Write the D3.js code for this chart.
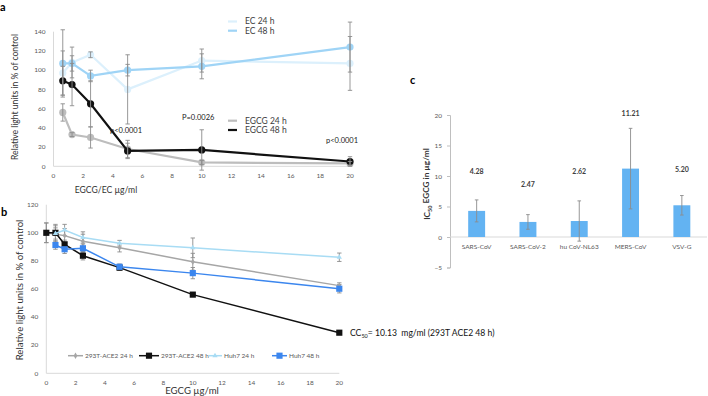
<!DOCTYPE html>
<html lang="en">
<head>
  <meta charset="UTF-8">
  <title>EGCG</title>
  <script src="https://d3js.org/d3.v7.min.js"></script>
  <style>
    body { margin: 0; background: #fff; }
    svg { font-family: Lato, "Open Sans", sans-serif; }
  </style>
</head>
<body>
  <div id="wrapper"></div>
  <script>
    // panel a
    const concA = [0.625, 1.25, 2.5, 5, 10, 20]
    const ec24 = [97, 108, 116, 80, 110, 107]
    const ec24Err = [23, 16, 3, 36, 12, 28]
    const ec48 = [107, 107, 94, 100, 104, 124]
    const ec48Err = [35, 8, 6, 6, 13, 26]
    const egcg24 = [56, 33, 30, 18, 4, 3]
    const egcg24Err = [9, 2, 11, 9, 2, 2]
    const egcg48 = [89, 85, 65, 16, 17, 5]
    const egcg48Err = [15, 22, 24, 8, 21, 5]
    const ticksA = { x: [0, 2, 4, 6, 8, 10, 12, 14, 16, 18, 20], y: [0, 20, 40, 60, 80, 100, 120, 140] }

    // panel b
    const concB = [0, 0.625, 1.25, 2.5, 5, 10, 20]
    const ace24 = [100, 99, 98, 94, 89.4, 79.4, 62.4]
    const ace24Err = [7, 6, 5, 5, 3, 6, 2]
    const ace48 = [100, 100, 91.8, 83.7, 75.2, 56, 28.9]
    const ace48Err = [7, 6, 3, 3, 2, 1, 1]
    const concHuh = [0.625, 1.25, 2.5, 5, 10, 20]
    const huh24 = [99.5, 102, 96.7, 92.6, 89.3, 82.6]
    const huh24Err = [4, 4, 4, 2, 7, 3]
    const huh48 = [91.3, 88.3, 89, 75.8, 71.3, 60.2]
    const huh48Err = [3, 3, 3, 2, 4, 3]
    const ticksB = { x: [0, 2, 4, 6, 8, 10, 12, 14, 16, 18, 20], y: [0, 20, 40, 60, 80, 100, 120] }

    // panel c
    const viruses = ['SARS-CoV', 'SARS-CoV-2', 'hu CoV-NL63', 'MERS-CoV', 'VSV-G']
    const ic50 = [4.28, 2.47, 2.62, 11.21, 5.20]
    const ic50Err = [1.8, 1.2, 3.3, 6.6, 1.6]
    const ic50LabelAt = [10.7, 8.6, 10.7, 20.3, 11.0]
    const ticksC = [-5, 0, 5, 10, 15, 20]

    const svg = d3.select('#wrapper')
      .append('svg')
        .attr('width', 708)
        .attr('height', 396)

    const tickColor = '#595959'
    const errColor = '#8c8c8c'
    const axisColor = '#d9d9d9'

    const drawAxes = (xScale, yScale, xt, yt, size) => {
      const g = svg.append('g')
      g.append('line')
        .attr('x1', xScale(0)).attr('x2', xScale(0))
        .attr('y1', yScale(d3.max(yt))).attr('y2', yScale(0))
        .attr('stroke', axisColor)
      g.append('line')
        .attr('x1', xScale(0)).attr('x2', xScale(20))
        .attr('y1', yScale(0)).attr('y2', yScale(0))
        .attr('stroke', axisColor)
      g.selectAll('.yt').data(yt).join('text')
        .attr('x', xScale(0) - 8).attr('y', d => yScale(d))
        .attr('text-anchor', 'end').attr('dy', '0.35em')
        .attr('font-size', size).attr('fill', tickColor)
        .text(d => d)
      g.selectAll('.xt').data(xt).join('text')
        .attr('x', d => xScale(d)).attr('y', yScale(0) + 9.5)
        .attr('text-anchor', 'middle').attr('dy', '0.35em')
        .attr('font-size', size).attr('fill', tickColor)
        .text(d => d)
    }

    const drawErr = (xScale, yScale, xs, ys, es, cap) => {
      const g = svg.append('g').attr('stroke', errColor).attr('stroke-width', 0.9)
      xs.forEach((x, i) => {
        const px = xScale(x)
        g.append('line').attr('x1', px).attr('x2', px)
          .attr('y1', yScale(ys[i] - es[i])).attr('y2', yScale(ys[i] + es[i]))
        ;[ys[i] - es[i], ys[i] + es[i]].forEach(v => {
          g.append('line').attr('x1', px - cap).attr('x2', px + cap)
            .attr('y1', yScale(v)).attr('y2', yScale(v))
        })
      })
    }

    const drawLine = (xScale, yScale, xs, ys, color, width) => {
      const pts = xs.map((x, i) => [x, ys[i]])
      const lineGenerator = d3.line()
        .x(d => xScale(d[0]))
        .y(d => yScale(d[1]))
      svg.append('path')
        .attr('d', lineGenerator(pts))
        .attr('fill', 'none')
        .attr('stroke', color)
        .attr('stroke-width', width)
      return pts
    }

    // ---------- panel a ----------
    const xA = d3.scaleLinear().domain([0, 20]).range([53.5, 350])
    const yA = d3.scaleLinear().domain([0, 140]).range([166.3, 31.7])
    drawAxes(xA, yA, ticksA.x, ticksA.y, 6.5)

    const seriesA = [
      { y: ec24, e: ec24Err, color: '#dcf0fc' },
      { y: ec48, e: ec48Err, color: '#9fd4f6' },
      { y: egcg24, e: egcg24Err, color: '#bdbdbd' },
      { y: egcg48, e: egcg48Err, color: '#111111' },
    ]
    seriesA.forEach(s => {
      const pts = drawLine(xA, yA, concA, s.y, s.color, 2.2)
      svg.append('g').selectAll('circle').data(pts).join('circle')
        .attr('cx', d => xA(d[0])).attr('cy', d => yA(d[1]))
        .attr('r', 3.6).attr('fill', s.color)
    })
    seriesA.forEach(s => drawErr(xA, yA, concA, s.y, s.e, 2.2))

    const legendA = [
      { label: 'EC 24 h', color: '#dcf0fc', y: 21.5 },
      { label: 'EC 48 h', color: '#9fd4f6', y: 30.7 },
      { label: 'EGCG 24 h', color: '#bdbdbd', y: 120.7 },
      { label: 'EGCG 48 h', color: '#111111', y: 130 },
    ]
    legendA.forEach(d => {
      svg.append('line').attr('x1', 228).attr('x2', 237)
        .attr('y1', d.y).attr('y2', d.y)
        .attr('stroke', d.color).attr('stroke-width', 2.2)
      svg.append('text').attr('x', 245).attr('y', d.y).attr('dy', '0.35em')
        .attr('font-size', 8.5).attr('fill', '#404040').text(d.label)
    })

    svg.append('text').attr('x', 110).attr('y', 130).attr('dy', '0.35em')
      .attr('font-size', 7.5).attr('fill', '#222').text('p<0.0001')
    svg.append('text').attr('x', 182).attr('y', 117).attr('dy', '0.35em')
      .attr('font-size', 7.5).attr('fill', '#222').text('P=0.0026')
    svg.append('text').attr('x', 326).attr('y', 140).attr('dy', '0.35em')
      .attr('font-size', 7.5).attr('fill', '#222').text('p<0.0001')

    svg.append('text')
      .attr('transform', 'translate(15,97) rotate(-90)')
      .attr('text-anchor', 'middle').attr('dy', '0.35em')
      .attr('font-size', 8.6).attr('fill', '#333')
      .text('Relative light units in % of control')
    svg.append('text').attr('x', 106).attr('y', 190).attr('text-anchor', 'middle')
      .attr('dy', '0.35em').attr('font-size', 8.6).attr('fill', '#333')
      .text('EGCG/EC µg/ml')
    svg.append('text').attr('x', 0).attr('y', 11).attr('font-size', 11)
      .attr('font-weight', 'bold').text('a')

    // ---------- panel b ----------
    const xB = d3.scaleLinear().domain([0, 20]).range([46.3, 339.3])
    const yB = d3.scaleLinear().domain([0, 120]).range([373.3, 204.7])
    drawAxes(xB, yB, ticksB.x, ticksB.y, 6.5)

    const seriesB = [
      { x: concB, y: ace24, e: ace24Err, color: '#a6a6a6', shape: d3.symbolDiamond, size: 12, label: '293T-ACE2 24 h' },
      { x: concB, y: ace48, e: ace48Err, color: '#111111', shape: d3.symbolSquare, size: 38, label: '293T-ACE2 48 h' },
      { x: concHuh, y: huh24, e: huh24Err, color: '#a8dcf4', shape: d3.symbolTriangle, size: 12, label: 'Huh7 24 h' },
      { x: concHuh, y: huh48, e: huh48Err, color: '#3b86ee', shape: d3.symbolSquare, size: 38, label: 'Huh7 48 h' },
    ]
    seriesB.forEach(s => drawErr(xB, yB, s.x, s.y, s.e, 2.2))
    seriesB.forEach(s => {
      const pts = drawLine(xB, yB, s.x, s.y, s.color, 1.5)
      svg.append('g').selectAll('path').data(pts).join('path')
        .attr('transform', d => `translate(${xB(d[0])},${yB(d[1])})`)
        .attr('d', d3.symbol().type(s.shape).size(s.size))
        .attr('fill', s.color)
    })

    const legendBx = [68, 139, 208, 272]
    const legendBw = [15, 20, 14, 15]
    seriesB.forEach((s, i) => {
      const y = 355.7
      const x0 = legendBx[i]
      svg.append('line').attr('x1', x0).attr('x2', x0 + legendBw[i])
        .attr('y1', y).attr('y2', y).attr('stroke', s.color).attr('stroke-width', 1.5)
      svg.append('path')
        .attr('transform', `translate(${x0 + legendBw[i] / 2},${y})`)
        .attr('d', d3.symbol().type(s.shape).size(s.size))
        .attr('fill', s.color)
      svg.append('text').attr('x', x0 + legendBw[i] + 2).attr('y', y).attr('dy', '0.35em')
        .attr('font-size', 6.5).attr('fill', tickColor).text(s.label)
    })

    const cc = svg.append('text').attr('x', 350).attr('y', 333.3).attr('dy', '0.35em')
      .attr('font-size', 8.6).attr('fill', '#111').style('white-space', 'pre')
    cc.append('tspan').text('CC')
    cc.append('tspan').attr('font-size', 5.5).attr('dy', '0.25em').text('50')
    cc.append('tspan').attr('dy', '-0.18em').text('= 10.13  mg/ml (293T ACE2 48 h)')

    svg.append('text')
      .attr('transform', 'translate(20,290) rotate(-90)')
      .attr('text-anchor', 'middle').attr('dy', '0.35em')
      .attr('font-size', 9.6).attr('fill', '#333')
      .text('Relative light units in % of control')
    svg.append('text').attr('x', 192).attr('y', 391).attr('text-anchor', 'middle')
      .attr('dy', '0.35em').attr('font-size', 9.6).attr('fill', '#333')
      .text('EGCG µg/ml')
    svg.append('text').attr('x', 1).attr('y', 216).attr('font-size', 11)
      .attr('font-weight', 'bold').text('b')

    // ---------- panel c ----------
    const xC = d3.scaleBand().domain(viruses).range([451, 707.5]).paddingInner(0.67).paddingOuter(0.335)
    const yC = d3.scaleLinear().domain([-5, 20]).range([267.5, 115])

    const axisC = svg.append('g')
      .attr('transform', 'translate(450,0)')
      .call(d3.axisLeft(yC).tickValues(ticksC).tickSize(3).tickPadding(5))
    axisC.select('.domain').attr('stroke', '#bfbfbf')
    axisC.selectAll('line').attr('stroke', '#bfbfbf')
    axisC.selectAll('text').attr('fill', tickColor).attr('font-size', 6.5)
      .attr('font-family', 'Lato, sans-serif')

    svg.append('line').attr('x1', 450).attr('x2', 707)
      .attr('y1', yC(0)).attr('y2', yC(0)).attr('stroke', axisColor)

    svg.append('g').selectAll('rect').data(viruses).join('rect')
      .attr('x', d => xC(d)).attr('width', xC.bandwidth())
      .attr('y', (d, i) => yC(ic50[i]))
      .attr('height', (d, i) => yC(0) - yC(ic50[i]))
      .attr('fill', '#63b3f2')

    const xCmid = d => xC(d) + xC.bandwidth() / 2
    drawErr(v => xCmid(v), yC, viruses, ic50, ic50Err, 1.8)

    svg.append('g').selectAll('text').data(viruses).join('text')
      .attr('x', d => xCmid(d)).attr('y', (d, i) => yC(ic50LabelAt[i]))
      .attr('text-anchor', 'middle').attr('dy', '0.35em')
      .attr('font-size', 7).attr('font-weight', 'bold').attr('fill', '#404040')
      .text((d, i) => ic50[i].toFixed(2))

    svg.append('g').selectAll('text').data(viruses).join('text')
      .attr('x', d => xCmid(d)).attr('y', yC(0) + 10)
      .attr('text-anchor', 'middle').attr('dy', '0.35em')
      .attr('font-size', 6.5).attr('fill', tickColor)
      .text(d => d)

    const yt = svg.append('text')
      .attr('transform', 'translate(427,184) rotate(-90)')
      .attr('text-anchor', 'middle').attr('dy', '0.35em')
      .attr('font-size', 8.3).attr('font-weight', 'bold').attr('fill', '#333')
    yt.append('tspan').text('IC')
    yt.append('tspan').attr('font-size', 5.5).attr('dy', '0.3em').text('50')
    yt.append('tspan').attr('dy', '-0.3em').text(' EGCG in µg/ml')

    svg.append('text').attr('x', 410).attr('y', 84).attr('font-size', 11)
      .attr('font-weight', 'bold').text('c')
  </script>
</body>
</html>
